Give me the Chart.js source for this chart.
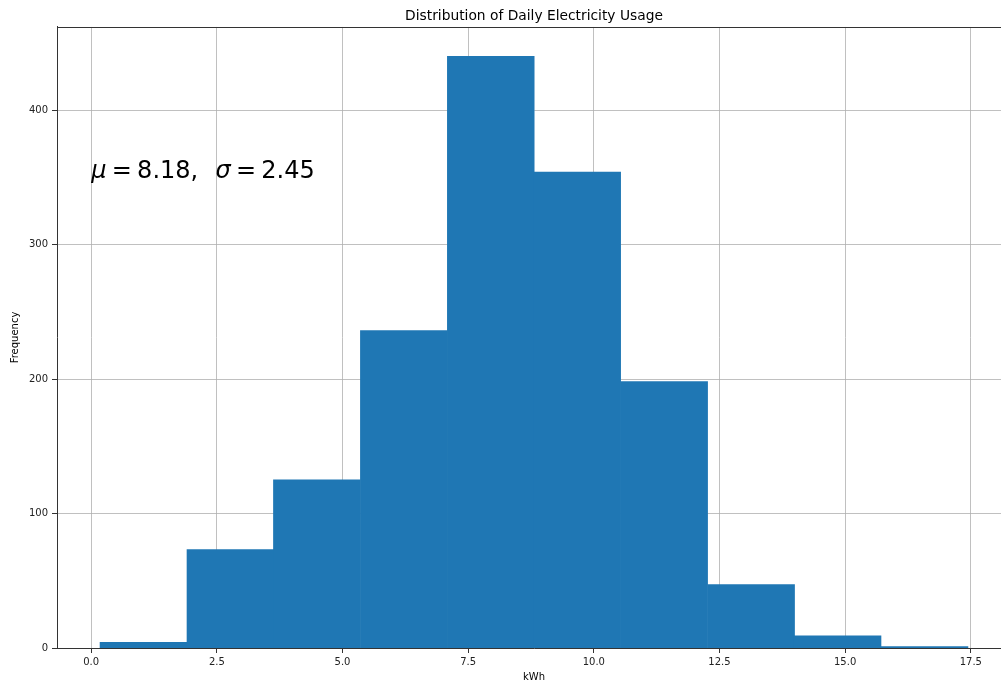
<!DOCTYPE html>
<html>
<head>
<meta charset="utf-8">
<script src="https://cdn.jsdelivr.net/npm/chart.js@4"></script>
<style>
  html, body { margin: 0; padding: 0; background: #fff; overflow: hidden; }
  #wrap { width: 1001px; height: 682px; overflow: hidden; }
</style>
</head>
<body>
<div id="wrap"><canvas id="myChart" width="1011" height="682"></canvas></div>
<script>
// histogram bins (kWh, bin centres) and counts
var binCenters = [1.04, 2.77, 4.49, 6.22, 7.95, 9.67, 11.40, 13.13, 14.85, 16.58];
var counts = [4, 73, 125, 236, 440, 354, 198, 47, 9, 1];
var xTicks = [0, 2.5, 5, 7.5, 10, 12.5, 15, 17.5];
var yTicks = [0, 100, 200, 300, 400];
var muText = '8.18';
var sigmaText = '2.45';

var points = [];
for (let i = 0; i < binCenters.length; i++) {
  points.push({x: binCenters[i], y: counts[i]});
}

var font = 'DejaVu Sans';

// top spine + the mu/sigma text
var extras = {
  id: 'extras',
  afterDraw(chart) {
    var ctx = chart.ctx;
    var a = chart.chartArea;
    ctx.save();
    ctx.strokeStyle = '#333';
    ctx.lineWidth = 1;
    ctx.beginPath();
    ctx.moveTo(a.left, Math.round(a.top) + 0.5);
    ctx.lineTo(a.right, Math.round(a.top) + 0.5);
    ctx.stroke();

    var size = 24;
    var x = chart.scales.x.getPixelForValue(0);
    var y = chart.scales.y.getPixelForValue(350);
    var gap = 0.22 * size;
    var parts = [
      ['μ', true, gap], ['=', false, gap], [muText + ',', false, 0.72 * size],
      ['σ', true, gap], ['=', false, gap], [sigmaText, false, 0]
    ];
    ctx.fillStyle = '#000';
    ctx.textBaseline = 'alphabetic';
    ctx.textAlign = 'left';
    for (let p of parts) {
      ctx.font = (p[1] ? 'italic ' : '') + size + 'px "' + font + '"';
      ctx.fillText(p[0], x, y);
      x += ctx.measureText(p[0]).width + p[2];
    }
    ctx.restore();
  }
};

new Chart('myChart', {
  type: 'bar',
  data: {
    datasets: [{
      label: 'kWh',
      data: points,
      backgroundColor: '#1f77b4',
      borderWidth: 0,
      inflateAmount: 0.5,
      barPercentage: 1,
      categoryPercentage: 1
    }]
  },
  options: {
    responsive: false,
    animation: false,
    devicePixelRatio: 1,
    layout: {padding: 0},
    plugins: {
      legend: {display: false},
      tooltip: {enabled: false},
      title: {
        display: true,
        fullSize: false,
        text: 'Distribution of Daily Electricity Usage',
        color: '#000',
        font: {family: font, size: 13.8, weight: 'normal', lineHeight: 1.2},
        padding: {top: 7.7, bottom: 2.7}
      }
    },
    scales: {
      x: {
        type: 'linear',
        min: -0.68,
        max: 18.3,
        offset: false,
        z: 1,
        afterBuildTicks: s => { s.ticks = xTicks.map(v => ({value: v})); },
        afterFit: s => { s.height = 34; },
        grid: {offset: false, color: '#b0b0b0', lineWidth: 0.8, tickLength: 5, tickColor: '#333', tickWidth: 1},
        border: {color: '#333', width: 1},
        ticks: {
          color: '#222', padding: 3, maxRotation: 0,
          font: {family: font, size: 10},
          callback: v => v.toFixed(1)
        },
        title: {display: true, text: 'kWh', color: '#000', font: {family: font, size: 10, lineHeight: 1}, padding: {top: 0, bottom: 0}}
      },
      y: {
        min: 0,
        max: 462,
        z: 1,
        afterBuildTicks: s => { s.ticks = yTicks.map(v => ({value: v})); },
        afterFit: s => { s.width = 57; },
        grid: {color: '#b0b0b0', lineWidth: 0.8, tickLength: 5, tickColor: '#333', tickWidth: 1},
        border: {color: '#333', width: 1},
        ticks: {color: '#222', padding: 4, font: {family: font, size: 10}},
        title: {display: true, text: 'Frequency', color: '#000', font: {family: font, size: 10, lineHeight: 1}, padding: {top: 10, bottom: 0}}
      }
    }
  },
  plugins: [extras]
});
</script>
</body>
</html>
